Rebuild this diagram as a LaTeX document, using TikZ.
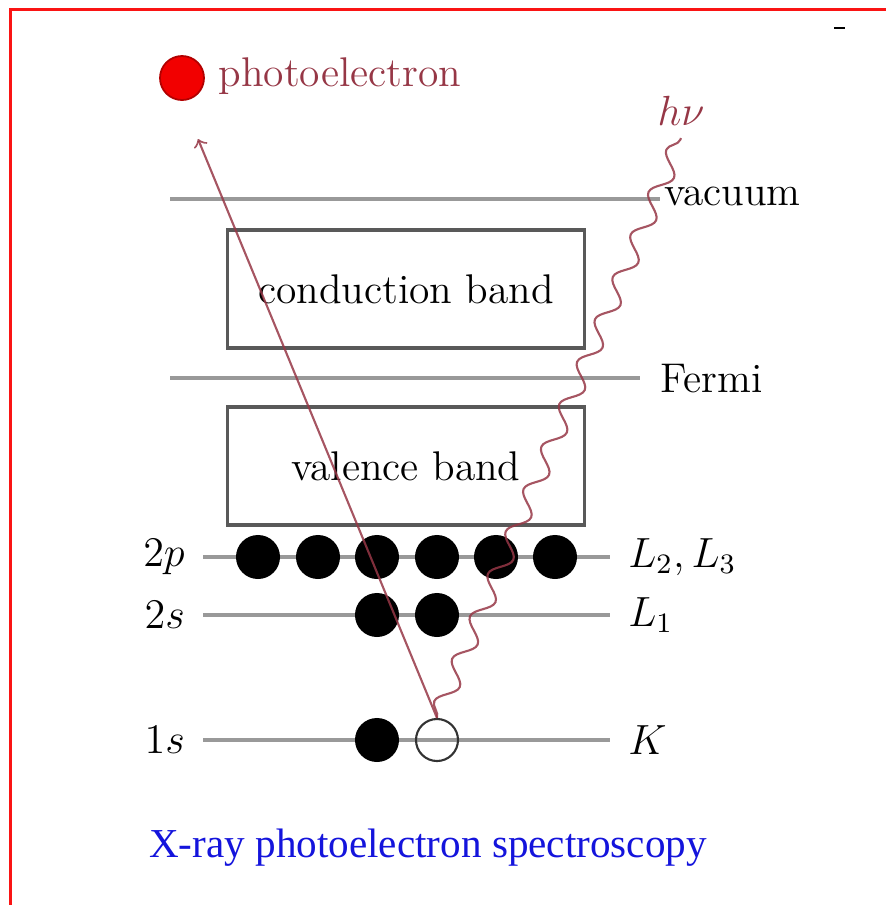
\documentclass[tikz,border=0pt]{standalone}
\usepackage{fontspec}
\newfontfamily\captionfont{Liberation Serif}
\usetikzlibrary{decorations.pathmorphing}
\definecolor{photored}{RGB}{150,55,70}
\definecolor{framered}{RGB}{250,20,20}
\definecolor{capblue}{RGB}{20,20,220}
\tikzset{
  level/.style={line width=1.1pt, gray!80},
  band/.style={draw=black!65, line width=0.9pt, minimum width=3.57cm, minimum height=1.18cm, font=\fontsize{11.8}{14}\selectfont},
  electron/.style={circle, fill=black, minimum size=0.44cm, inner sep=0pt},
  hole/.style={circle, draw=black!80, line width=0.6pt, minimum size=0.42cm, inner sep=0pt},
  shellname/.style={anchor=east, inner sep=5pt, font=\fontsize{11.8}{14}\selectfont},
  edgename/.style={anchor=west, inner sep=5pt, font=\fontsize{11.8}{14}\selectfont},
}
\begin{document}
\begin{tikzpicture}[x=0.01cm, y=-0.01cm]
    \useasboundingbox (0,0) rectangle (886,905);
    % Cornice
    \draw[framered, line width=0.7pt] (10.5,905) -- (10.5,9.5) -- (886,9.5);
    \draw[line width=0.6pt] (834,28) -- (845,28);

    % Legenda
    \node[circle, fill=red!95!black, draw=red!70!black, line width=0.5pt, minimum size=0.44cm, inner sep=0pt] (dot) at (182,78) {};
    \node[anchor=west, inner sep=0pt, text=photored, font=\fontsize{11.8}{14}\selectfont] (pelabel) at (218,76) {photoelectron};

    % Livelli vuoto e Fermi
    \node[anchor=west, inner sep=1pt, font=\fontsize{11.8}{14}\selectfont] (vac) at (660,196) {vacuum};
    \node[anchor=west, inner sep=0pt, font=\fontsize{11.8}{14}\selectfont] (fermi) at (660,379) {Fermi};
    \coordinate (vacL) at (170,199);
    \coordinate (fermiL) at (170,378);
    \coordinate (fermiR) at (640,378);
    \draw[level] (vacL) -- (vacL -| vac.west);
    \draw[level] (fermiL) -- (fermiR);

    % Bande
    \node[band] (cb) at (406,289) {conduction band};
    \node[band] (vb) at (406,466) {valence band};

    % Livelli di core
    \node[shellname] (n2p) at (203,557) {$2p$};
    \node[shellname] (n2s) at (203,615) {$2s$};
    \node[shellname] (n1s) at (203,740) {$1s$};
    \node[edgename] (e2p) at (610,557) {$L_2, L_3$};
    \node[edgename] (e2s) at (610,615) {$L_1$};
    \node[edgename] (e1s) at (610,740) {$K$};
    \draw[level] (n2p) -- (e2p);
    \draw[level] (n2s) -- (e2s);
    \draw[level] (n1s) -- (e1s);

    % Elettroni
    \foreach \i/\x in {1/258,2/318,3/377,4/437,5/496,6/555}
        \node[electron] (p\i) at (\x,557) {};
    \node[electron] (s1) at (377,615) {};
    \node[electron] (s2) at (437,615) {};
    \node[electron] (k1) at (377,740) {};
    \node[hole] (k2) at (437,740) {};

    % Fotone e fotoelettrone
    \node[text=photored, font=\fontsize{11.8}{14}\selectfont] (hnu) at (681,111) {$h\nu$};
    \coordinate (exit) at (198,139);
    \draw[photored, line width=0.6pt, opacity=0.85, decorate,
          decoration={snake, amplitude=0.09cm, segment length=0.46cm}]
        (k2.north) -- (hnu.south);
    \draw[->, photored, line width=0.6pt, opacity=0.85] (k2.north) -- (exit);

    % Didascalia
    \node[text=capblue, font=\captionfont\fontsize{11.7}{14}\selectfont] (caption) at (428,848) {X-ray photoelectron spectroscopy};
\end{tikzpicture}
\end{document}
